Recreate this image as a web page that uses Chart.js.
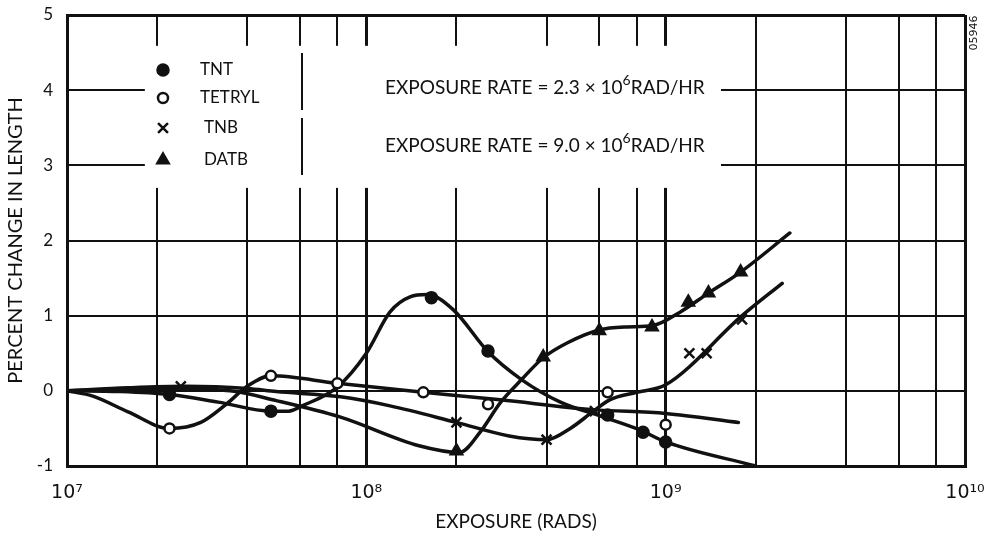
<!DOCTYPE html>
<html>
<head>
<meta charset="utf-8">
<script src="https://cdn.jsdelivr.net/npm/chart.js@4.4.1/dist/chart.umd.min.js"></script>
<style>
html, body { margin: 0; padding: 0; background: #fff; }
</style>
</head>
<body>
<canvas id="chart" width="1002" height="538"></canvas>
<script>
// grid lines on the exposure axis: 1, 2, 4, 6, 8 in every decade
const gridExposure = [1e7, 2e7, 4e7, 6e7, 8e7, 1e8, 2e8, 4e8, 6e8, 8e8, 1e9, 2e9, 4e9, 6e9, 8e9, 1e10];
const decadeLabels = { 1e7: "10⁷", 1e8: "10⁸", 1e9: "10⁹", 1e10: "10¹⁰" };
const changeTicks = [-1, 0, 1, 2, 3, 4, 5];

// measured points (markers)
const tntX = [2.2e7, 4.8e7, 1.65e8, 2.55e8, 6.4e8, 8.4e8, 1.0e9];
const tntY = [-0.05, -0.27, 1.24, 0.53, -0.32, -0.55, -0.68];
const tetrylX = [2.2e7, 4.8e7, 8.0e7, 1.55e8, 2.55e8, 6.4e8, 1.0e9];
const tetrylY = [-0.5, 0.2, 0.1, -0.02, -0.18, -0.02, -0.45];
const tnbX = [2.4e7, 2.0e8, 4.0e8, 5.8e8, 1.2e9, 1.37e9, 1.8e9];
const tnbY = [0.06, -0.42, -0.65, -0.27, 0.5, 0.5, 0.95];
const datbX = [2.0e8, 3.9e8, 6.0e8, 9.0e8, 1.19e9, 1.39e9, 1.78e9];
const datbY = [-0.8, 0.45, 0.8, 0.85, 1.18, 1.3, 1.58];

// hand drawn curves
const tntCurveX = [1e7, 1.5e7, 2.2e7, 3.2e7, 4.8e7, 5.5e7, 6.1e7, 8e7, 1e8, 1.2e8, 1.4e8, 1.6e8, 1.95e8, 2.55e8, 3.3e8, 4.45e8, 6.1e8, 8.2e8, 1e9, 2e9];
const tntCurveY = [0, -0.01, -0.05, -0.15, -0.27, -0.27, -0.2, 0.05, 0.5, 1.05, 1.25, 1.28, 1.08, 0.52, 0.15, -0.15, -0.34, -0.52, -0.68, -1.0];
const tetrylCurveX = [1e7, 1.22e7, 1.6e7, 2.2e7, 2.8e7, 3.4e7, 4e7, 4.8e7, 8e7, 1.55e8, 2.8e8, 5.7e8, 1e9, 1.75e9];
const tetrylCurveY = [0, -0.07, -0.28, -0.5, -0.42, -0.18, 0.06, 0.2, 0.1, -0.02, -0.12, -0.25, -0.3, -0.42];
const tnbCurveX = [1e7, 1.6e7, 2.5e7, 4e7, 5e7, 8.2e7, 1.2e8, 2e8, 3e8, 4e8, 4.8e8, 5.7e8, 6.5e8, 8e8, 1e9, 1.8e9, 2.45e9];
const tnbCurveY = [0, 0.04, 0.06, 0.03, -0.01, -0.08, -0.2, -0.42, -0.6, -0.65, -0.5, -0.28, -0.12, -0.02, 0.08, 1.0, 1.43];
const datbCurveX = [1e7, 2e7, 3.5e7, 5e7, 8.2e7, 1.5e8, 2.05e8, 2.4e8, 2.8e8, 3.3e8, 3.9e8, 4.7e8, 6e8, 7.4e8, 9.1e8, 1.12e9, 1.39e9, 1.78e9, 2.6e9];
const datbCurveY = [0, 0.03, 0.0, -0.13, -0.35, -0.73, -0.82, -0.55, -0.16, 0.15, 0.44, 0.64, 0.81, 0.85, 0.87, 1.05, 1.3, 1.58, 2.1];

const keyNames = ["TNT", "TETRYL", "TNB", "DATB"];
const rateNotes = ["2.3", "9.0"];

const INK = "#111";
const pts = (xs, ys) => xs.map((x, i) => ({ x, y: ys[i] }));

const curve = (label, xs, ys) => ({
    label,
    data: pts(xs, ys),
    showLine: true,
    borderColor: INK,
    borderWidth: 3.5,
    borderCapStyle: "round",
    borderJoinStyle: "round",
    pointRadius: 0,
    fill: false,
    cubicInterpolationMode: "monotone"
});

const markers = (label, xs, ys, style) => Object.assign({
    label,
    data: pts(xs, ys),
    showLine: false,
    borderColor: INK,
    backgroundColor: INK,
    pointBorderWidth: 2.5
}, style);

const markerStyles = [
    { pointStyle: "circle", pointRadius: 5.5, pointBackgroundColor: INK },
    { pointStyle: "circle", pointRadius: 5, pointBackgroundColor: "#fff" },
    { pointStyle: "crossRot", pointRadius: 7 },
    { pointStyle: "triangle", pointRadius: 6.5, pointBackgroundColor: INK }
];

// blank panel behind the key and the rate notes, key drawn on top
const keyPanel = {
    id: "keyPanel",
    beforeDatasetsDraw(chart) {
        const { ctx, chartArea: a, scales } = chart;
        const x0 = scales.x.getPixelForValue(1.82e7), x1 = scales.x.getPixelForValue(1.53e9);
        const y0 = scales.y.getPixelForValue(4.59), y1 = scales.y.getPixelForValue(2.7);
        ctx.save();
        ctx.fillStyle = "#fff";
        ctx.fillRect(x0, y0, x1 - x0, y1 - y0);

        // key
        const kx = a.left + 96, tx = a.left + 133;
        const rows = [70, 98, 128, 160];
        ctx.strokeStyle = INK;
        ctx.textBaseline = "middle";
        ctx.textAlign = "left";
        keyNames.forEach((name, i) => {
            const st = markerStyles[i];
            ctx.fillStyle = st.pointBackgroundColor || INK;
            ctx.lineWidth = 2.5;
            Chart.helpers.drawPoint(ctx, { pointStyle: st.pointStyle, radius: st.pointRadius, borderWidth: 2.5, rotation: 0 }, kx, rows[i]);
            ctx.fillStyle = INK;
            ctx.font = "17px Lato";
            ctx.fillText(name, tx + (i > 1 ? 4 : 0), rows[i]);
        });

        // brackets
        ctx.lineWidth = 2;
        ctx.beginPath();
        ctx.moveTo(a.left + 235, 53); ctx.lineTo(a.left + 235, 110);
        ctx.moveTo(a.left + 235, 118); ctx.lineTo(a.left + 235, 175);
        ctx.stroke();

        // rate notes
        [88, 146].forEach((y, i) => {
            let x = a.left + 318;
            ctx.font = "19px Lato";
            const head = "EXPOSURE RATE = " + rateNotes[i] + " × 10";
            ctx.fillText(head, x, y);
            x += ctx.measureText(head).width;
            ctx.font = "14px Lato";
            ctx.fillText("6", x, y - 8);
            x += ctx.measureText("6").width;
            ctx.font = "19px Lato";
            ctx.fillText("RAD/HR", x, y);
        });

        // drawing number
        ctx.translate(a.right + 9, a.top + 18);
        ctx.rotate(-Math.PI / 2);
        ctx.textAlign = "center";
        ctx.font = "11px 'DejaVu Sans'";
        ctx.fillText("05946", 0, 0);
        ctx.restore();
    }
};

new Chart(document.getElementById("chart"), {
    type: "scatter",
    data: {
        datasets: [
            markers("TNT", tntX, tntY, markerStyles[0]),
            markers("TETRYL", tetrylX, tetrylY, markerStyles[1]),
            markers("TNB", tnbX, tnbY, markerStyles[2]),
            markers("DATB", datbX, datbY, markerStyles[3]),
            curve("TNT curve", tntCurveX, tntCurveY),
            curve("TETRYL curve", tetrylCurveX, tetrylCurveY),
            curve("TNB curve", tnbCurveX, tnbCurveY),
            curve("DATB curve", datbCurveX, datbCurveY)
        ]
    },
    options: {
        responsive: false,
        animation: false,
        layout: { padding: { top: 15, right: 37, left: 0, bottom: 0 } },
        plugins: { legend: { display: false }, tooltip: { enabled: false } },
        scales: {
            x: {
                type: "logarithmic",
                min: 1e7,
                max: 1e10,
                afterBuildTicks: s => { s.ticks = gridExposure.map(v => ({ value: v })); },
                afterFit: s => { s.height = 72; s.paddingLeft = 0; s.paddingRight = 0; },
                grid: {
                    color: INK,
                    lineWidth: c => (c.tick && decadeLabels[c.tick.value]) ? 3 : 2,
                    drawTicks: false
                },
                border: { color: INK, width: 3 },
                ticks: {
                    callback: v => decadeLabels[v] || "",
                    autoSkip: false,
                    maxRotation: 0,
                    padding: 16,
                    color: INK,
                    font: { family: "DejaVu Sans", size: 19 }
                },
                title: {
                    display: true,
                    text: "EXPOSURE (RADS)",
                    color: INK,
                    font: { family: "Lato", size: 19 },
                    padding: { top: 0, bottom: 5 }
                }
            },
            y: {
                min: -1,
                max: 5,
                afterBuildTicks: s => { s.ticks = changeTicks.map(v => ({ value: v })); },
                afterFit: s => { s.width = 67; s.paddingTop = 0; s.paddingBottom = 0; },
                grid: {
                    color: INK,
                    lineWidth: c => (c.tick && c.tick.value === 5) ? 3 : 2,
                    drawTicks: false
                },
                border: { color: INK, width: 3 },
                ticks: {
                    padding: 14,
                    color: INK,
                    font: { family: "Lato", size: 17 }
                },
                title: {
                    display: true,
                    text: "PERCENT CHANGE IN LENGTH",
                    color: INK,
                    font: { family: "Lato", size: 20 },
                    padding: { top: 4, bottom: 0 }
                }
            }
        }
    },
    plugins: [keyPanel]
});
</script>
</body>
</html>
